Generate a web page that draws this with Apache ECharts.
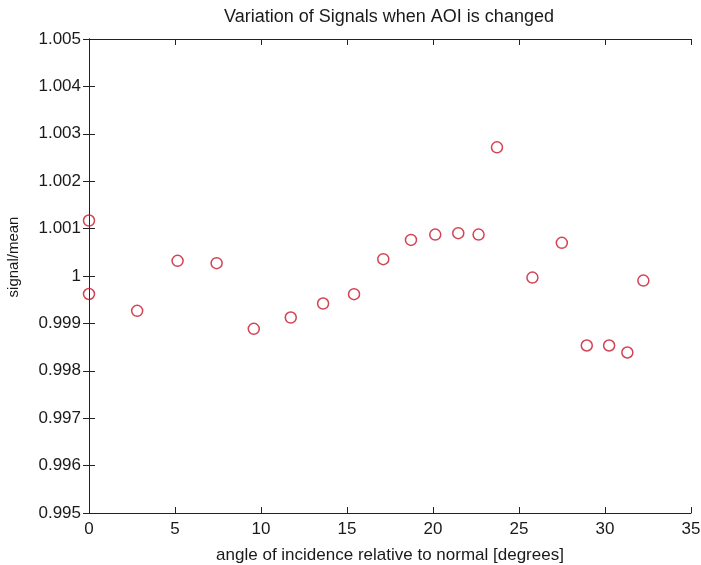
<!DOCTYPE html>
<html>
<head>
<meta charset="utf-8">
<script src="https://cdn.jsdelivr.net/npm/echarts@6/dist/echarts.min.js"></script>
<style>html,body{margin:0;padding:0;background:#fff;}#c{width:701px;height:565px;}</style>
</head>
<body>
<div id="c"></div>
<script>
const titleText = 'Variation of Signals when AOI is changed';
const xName = 'angle of incidence relative to normal [degrees]';
const yName = 'signal/mean';
const angles = [0, 0, 2.80, 5.15, 7.42, 9.58, 11.73, 13.61, 15.41, 17.11, 18.72, 20.13, 21.47, 22.65, 23.72, 25.78, 27.49, 28.94, 30.24, 31.30, 32.23];
const signals = [1.00117, 0.99962, 0.999265, 1.00032, 1.00027, 0.998886, 0.999124, 0.999419, 0.999617, 1.000355, 1.000762, 1.000874, 1.000903, 1.000874, 1.002715, 0.999967, 1.000699, 0.998534, 0.998534, 0.998386, 0.999904];
const xRange = [0, 35, 5];
const yRange = [0.995, 1.005, 0.001];

const points = angles.map((a, i) => [a, signals[i]]);
const font = 'Liberation Sans, Arial, sans-serif';
const axisLineStyle = {color: '#222', width: 1};
const yFmt = v => String(parseFloat(v.toFixed(3)));

const chart = echarts.init(document.getElementById('c'), null, {renderer: 'canvas'});
chart.setOption({
  backgroundColor: '#fff',
  animation: false,
  title: {
    text: titleText, left: 384, top: 3, textAlign: 'center',
    textStyle: {fontFamily: font, fontSize: 18, fontWeight: 'normal', color: '#1a1a1a'}
  },
  grid: {left: 89, right: 10, top: 39, bottom: 52, containLabel: false, outerBoundsMode: 'none'},
  xAxis: [{
    type: 'value', min: xRange[0], max: xRange[1], interval: xRange[2], position: 'bottom',
    name: xName, nameLocation: 'middle', nameGap: 34,
    nameTextStyle: {fontFamily: font, fontSize: 17, color: '#1a1a1a'},
    axisLine: {show: true, lineStyle: axisLineStyle},
    axisTick: {show: true, inside: true, length: 6, lineStyle: axisLineStyle},
    axisLabel: {fontFamily: font, fontSize: 17, color: '#1a1a1a', margin: 8},
    splitLine: {show: false}
  }, {
    type: 'value', min: xRange[0], max: xRange[1], interval: xRange[2], position: 'top',
    axisLine: {show: true, lineStyle: axisLineStyle},
    axisTick: {show: true, inside: true, length: 6, lineStyle: axisLineStyle},
    axisLabel: {show: false}, splitLine: {show: false}
  }],
  yAxis: [{
    type: 'value', min: yRange[0], max: yRange[1], interval: yRange[2], position: 'left',
    name: yName, nameLocation: 'middle', nameGap: 68,
    nameTextStyle: {fontFamily: font, fontSize: 15, color: '#1a1a1a', padding: [0, 0, 0, 38]},
    axisLine: {show: true, lineStyle: axisLineStyle},
    axisTick: {show: true, inside: true, length: 6, lineStyle: axisLineStyle},
    axisLabel: {fontFamily: font, fontSize: 17, color: '#1a1a1a', margin: 8, formatter: yFmt},
    splitLine: {show: false}
  }, {
    type: 'value', min: yRange[0], max: yRange[1], interval: yRange[2], position: 'right',
    axisLine: {show: true, lineStyle: axisLineStyle},
    axisTick: {show: true, inside: true, length: 6, lineStyle: axisLineStyle},
    axisLabel: {show: false}, splitLine: {show: false}
  }],
  series: [{
    type: 'scatter', data: points, clip: false,
    symbol: 'circle', symbolSize: 11,
    itemStyle: {color: 'rgba(255,255,255,0)', borderColor: '#c8142a', borderWidth: 1.5}
  }]
});
</script>
</body>
</html>
